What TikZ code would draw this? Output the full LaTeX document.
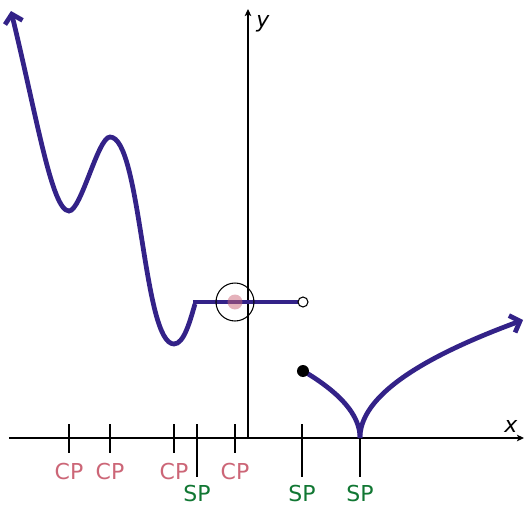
\documentclass[tikz,border=0pt]{standalone}
\usepackage{fontspec}
\setmainfont{DejaVu Sans}
\usetikzlibrary{arrows.meta}
\definecolor{CurveIndigo}{RGB}{51,34,136}
\definecolor{CritRose}{RGB}{204,102,119}
\definecolor{SingGreen}{RGB}{17,119,51}
\tikzset{
  axisline/.style={draw=black, line width=0.7pt, -{Stealth[length=1.4mm, width=1.3mm, inset=0.3mm]}},
  tickline/.style={draw=black, line width=0.7pt},
  fcurve/.style={draw=CurveIndigo, line width=2.7pt, >={Straight Barb[length=1.7mm, width=3.6mm]}},
  cplabel/.style={text=CritRose, font=\fontsize{12.5}{15}\selectfont, inner sep=0pt},
  splabel/.style={cplabel, text=SingGreen},
  axislabel/.style={font=\fontsize{12.5}{15}\selectfont\itshape, inner sep=0pt},
  ringmark/.style={circle, draw=black, line width=0.6pt, inner sep=0pt, minimum size=0.76cm},
  holedot/.style={circle, draw=black, line width=0.6pt, fill=white, inner sep=0pt, minimum size=0.2cm},
  soliddot/.style={circle, fill=black, inner sep=0pt, minimum size=0.24cm},
  rosedot/.style={circle, fill=CritRose, opacity=0.5, inner sep=0pt, minimum size=0.3cm},
}

\begin{document}
\begin{tikzpicture}[x=0.02cm, y=0.02cm]
\useasboundingbox (-248,-67) rectangle (277,438);

% ================= axes =================
\draw[axisline] (-239,0) -- (276,0);
\draw[axisline] (0,0) -- (0,429);
\node[axislabel] (xlabel) at (263,12) {x};
\node[axislabel] (ylabel) at (15,414) {y};

% ================= ticks + labels =================
\foreach \cx [count=\i] in {-179,-138,-74,-13}{
  \draw[tickline] (\cx,14) -- (\cx,-15);
  \node[cplabel] (cp\i) at (\cx,-34) {CP};
}
\foreach \sx [count=\i] in {-51,54,112}{
  \draw[tickline] (\sx,14) -- (\sx,-39);
  \node[splabel] (sp\i) at (\sx,-56) {SP};
}

% ================= wavy left branch =================
\draw[fcurve, <-] (-237,427) .. controls (-211,320) and (-196,227) .. (-179,227)
   .. controls (-167,227) and (-150,301) .. (-138,301)
   .. controls (-107,301) and (-105,94) .. (-74,94)
   .. controls (-64,94) and (-58,117) .. (-53,134);

% ================= flat piece with removable point =================
\draw[fcurve] (-55,136) -- (55,136);
\node[rosedot] (cpdot) at (-13,136) {};
\node[ringmark] (ring) at (-13,136) {};
\node[holedot] (hole) at (55,136) {};

% ================= cusp branch =================
\draw[fcurve] plot[domain=0:7.55, variable=\t, samples=40] ({112-\t*\t},{8.9*\t});
\draw[fcurve, ->] plot[domain=0:12.77, variable=\t, samples=60] ({112+\t*\t},{9.24*\t});
\node[soliddot] (start) at (55,67) {};

\end{tikzpicture}
\end{document}
